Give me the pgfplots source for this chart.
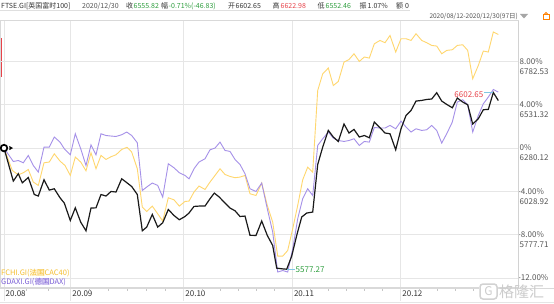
\documentclass[border=0pt]{standalone}
\usepackage{pgfplots}
\pgfplotsset{compat=1.18}
\usepackage{fontspec}
\setmainfont{Noto Sans CJK SC}
\definecolor{ftse}{HTML}{1A1A1A}
\definecolor{cac}{HTML}{FFD76E}
\definecolor{dax}{HTML}{A590E8}
\definecolor{cactxt}{HTML}{F5BE2E}
\definecolor{daxtxt}{HTML}{7B5FD6}
\definecolor{gridc}{HTML}{E6E6E6}
\definecolor{lab}{HTML}{555555}
\definecolor{hdr}{HTML}{333333}
\definecolor{upred}{HTML}{E8434A}
\definecolor{dngreen}{HTML}{2E9E3E}
\definecolor{hlblue}{HTML}{7EC8E3}
\newcommand\fs{\fontsize{8bp}{9.5bp}\selectfont}
\newcommand\hs{\fontsize{7bp}{8.5bp}\selectfont}
\begin{document}
\begin{tikzpicture}[x=1bp,y=1bp]
\useasboundingbox (0,0) rectangle (554,303);
\fill[white] (0,0) rectangle (554,303);
% header row 1
\begin{scope}[every node/.style={anchor=west,inner sep=0pt,font=\hs,text=hdr}]
\node at (1,297) {FTSE.GI[英国富时100]};
\node[text=lab] at (82,297) {2020/12/30};
\node at (126,297) {收};
\node[text=dngreen] at (133.5,297) {6555.82};
\node at (161,297) {幅};
\node[text=dngreen] at (168.5,297) {-0.71\%(-46.83)};
\node at (228,297) {开};
\node at (235.5,297) {6602.65};
\node at (272.5,297) {高};
\node[text=upred] at (280.5,297) {6622.98};
\node at (317.5,297) {低};
\node[text=dngreen] at (325.5,297) {6552.46};
\node at (359.5,297) {振};
\node at (367.5,297) {1.07\%};
\node at (396,297) {额};
\node at (405,297) {0};
\node[anchor=east,text=lab,font=\fontsize{6.5bp}{8bp}\selectfont] at (518,287) {2020/08/12-2020/12/30(97日)};
\end{scope}
\draw[gray!25] (0,293.2) -- (410,293.2);
\fill[gray!70] (520,289) -- (528,289) -- (524,284.5) -- cycle;
\draw[orange,line width=0.8bp] (543,284) rectangle (549,289);
\draw[orange,line width=0.8bp] (544.5,289) arc (180:0:1.5);
% left red mark
\fill[upred] (0,226) rectangle (1.6,265);
\begin{axis}[at={(0,15)}, anchor=south west, scale only axis,
  width=518bp, height=267bp,
  xmin=0, xmax=518, ymin=-12.81, ymax=11.85,
  axis line style={draw=gray!30},
  xtick={4,70.7,183.7,292.3,400.7}, xticklabels={},
  ytick={-12,-8,-4,0,4,8}, yticklabels={},
  major tick length=0pt,
  grid=major, grid style={gridc, line width=0.6bp},
  clip mode=individual]
\addplot[cac, line width=0.9bp] coordinates {(4,0) (12.3,-2.07) (18.3,-2.47) (23.3,-2.28) (28.3,-1.98) (33.3,-3.14) (38.3,-3.45) (44,-1.36) (49.3,-1.29) (54.3,-0.53) (60,-1.20) (65,-1.61) (70.3,-2.53) (75.3,-0.83) (80.7,-1.29) (86,-2.10) (91,-0.43) (96,-1.91) (101,-0.68) (106,-1.05) (111,-0.80) (116,-0.62) (121.7,-0.13) (127,0.07) (131.7,-0.37) (137.3,-1.91) (142.3,-5.45) (146.7,-5.86) (152.3,-5.36) (157.7,-6.07) (162.7,-6.74) (168.3,-4.59) (174,-4.78) (179.3,-5.36) (185,-4.93) (189,-4.90) (194,-4.06) (199,-3.51) (205,-3.82) (210,-3.14) (215,-2.53) (220,-1.91) (225,-2.44) (230,-2.62) (235,-2.74) (240,-2.68) (245,-2.53) (250,-4.22) (256,-4.38) (261.7,-3.23) (267.3,-5.30) (272.7,-6.84) (277.7,-9.98) (282.7,-9.98) (287.7,-9.46) (292.7,-7.45) (297.7,-5.30) (302.7,-2.93) (307.7,-1.76) (312.7,-2.22) (317.7,5.32) (322.7,6.86) (328.3,7.39) (333.3,5.78) (338.3,6.15) (344,7.94) (349,8.18) (354,8.71) (359.3,8.00) (364.3,8.41) (369.3,8.31) (374.3,9.63) (380,9.94) (385,9.73) (390,10.40) (395.7,8.87) (401,10.10) (406,10.10) (411,9.94) (416,10.56) (421.7,9.94) (426.7,9.73) (431.7,9.48) (436.7,9.42) (441.7,8.71) (446.7,9.02) (452.3,9.08) (457.3,9.48) (462.7,9.54) (467.7,9.02) (472.7,6.40) (478.3,7.63) (483.3,8.96) (488.3,8.87) (493.3,10.72) (498.3,10.49)};
\addplot[dax, line width=0.9bp] coordinates {(4,0) (13.3,-1.24) (18.3,-1.15) (23.3,-1.36) (28.3,-0.68) (33.3,-1.61) (38.3,-2.22) (44,0.09) (49.3,0.09) (54.3,1.02) (60,0.55) (64.3,-0.06) (70.3,-0.62) (75.3,1.32) (80.7,-0.06) (86,-1.61) (91,0.30) (96,-0.62) (101,1.32) (106,1.16) (111,1.11) (116,1.07) (121.7,1.23) (126.7,1.48) (131.7,1.16) (137.3,0.49) (142.3,-3.92) (146.7,-3.60) (152.3,-3.23) (157.7,-3.45) (162.7,-4.53) (168.3,-1.45) (174,-1.82) (179.3,-2.28) (185,-2.53) (189,-2.84) (194,-1.91) (199,-1.29) (205,-0.99) (210,-0.16) (215,0) (220,0.55) (225,-0.22) (230,-0.31) (235,-1.05) (240,-1.52) (245,-2.37) (250,-3.76) (256,-4.01) (261.7,-3.23) (267.3,-5.61) (272.7,-7.76) (277.7,-11.45) (282.7,-11.31) (287.7,-11.45) (292.7,-9.30) (297.7,-6.53) (302.7,-4.68) (307.7,-3.76) (312.7,-4.38) (317.7,0.24) (322.7,0.86) (328.3,1.48) (333.3,0.92) (338.3,0.70) (344,0.61) (349,0.70) (354,0.86) (359.3,0.24) (364.3,0.61) (369.3,0.55) (374.3,1.90) (380,1.85) (385,1.85) (390,2.09) (395.7,1.78) (401,2.49) (406,1.94) (411,1.48) (416,1.78) (421.7,1.63) (426.7,1.69) (431.7,2.09) (436.7,1.63) (441.7,0.46) (446.7,1.32) (452.3,2.40) (457.3,4.25) (462.7,4.46) (467.7,4.00) (472.7,1.48) (478.3,3.01) (483.3,4.09) (488.3,4.71) (493.3,5.41) (498.3,5.17)};
\addplot[ftse, line width=1.2bp] coordinates {(4,0) (13.3,-3.05) (18.3,-2.37) (22.3,-3.21) (28.3,-2.72) (34.3,-4.29) (38.3,-4.43) (44,-2.93) (49.3,-3.88) (54.3,-3.76) (60,-4.59) (64.3,-5.08) (70.3,-6.69) (75.3,-5.52) (80.7,-6.84) (86,-7.64) (91,-5.54) (96,-5.52) (101,-4.29) (106,-4.43) (111,-4.01) (116,-4.06) (121.7,-2.84) (127,-3.21) (131.7,-3.55) (137.3,-4.29) (142.3,-7.64) (146.7,-7.30) (152.3,-6.13) (157.7,-7.30) (162.7,-6.90) (168.3,-5.67) (174,-6.23) (179.3,-6.62) (185,-6.32) (189,-6.00) (194,-5.39) (199,-5.36) (205,-5.36) (210,-4.68) (214.3,-4.16) (219.3,-4.53) (225,-5.08) (230,-5.54) (235,-5.79) (240,-6.32) (245,-6.28) (250,-8.06) (256,-8.07) (261.7,-6.74) (267.3,-8.07) (272.7,-9.00) (276.7,-11.09) (281.7,-11.15) (286.7,-11.19) (291.7,-9.98) (296.7,-8.07) (301.7,-6.37) (306.7,-6.00) (312.7,-5.91) (317.7,-1.52) (322.7,0.09) (328.3,1.63) (333.3,1.02) (338.3,0.61) (344,2.22) (349,1.39) (354,1.72) (359.3,1.02) (364.3,1.16) (369.3,0.95) (374.3,2.40) (380,1.88) (385,1.39) (390,1.32) (395.7,-0.16) (401,1.78) (406,3.01) (411,3.47) (416,4.34) (421.7,4.40) (426.7,4.49) (431.7,4.53) (436.7,5.11) (441.7,4.34) (446.7,4.03) (452.3,3.72) (457.3,4.62) (462.7,4.25) (467.7,4.00) (472.7,2.22) (478.3,2.71) (483.3,3.54) (488.3,3.57) (493.3,5.13) (498.3,4.39)};
% start marker
\addplot[only marks, mark=triangle*, mark size=2bp, mark options={rotate=-90, fill=black, draw=black}] coordinates {(10.5,0)};
\addplot[only marks, mark=*, mark size=3.3bp, mark options={draw=black, fill=white, line width=1.7bp}] coordinates {(4,0)};
% min / max annotations
\draw[hlblue, line width=0.6bp] (axis cs:286.7,-11.19) -- (axis cs:295,-11.19);
\node[anchor=west, inner sep=0.5pt, font=\fs, text=dngreen] at (axis cs:295,-11.19) {5577.27};
\draw[hlblue, line width=0.6bp] (axis cs:484,5.13) -- (axis cs:493.3,5.13);
\node[anchor=east, inner sep=0.5pt, font=\fs, text=upred] at (axis cs:484,4.95) {6602.65};
% right axis labels
\begin{scope}[every node/.style={anchor=west, inner sep=0pt, font=\fs, text=lab}]
\node at (axis cs:519.5,8) {8.00\%};
\node at ([yshift=-10bp]axis cs:519.5,8) {6782.53};
\node at (axis cs:519.5,4) {4.00\%};
\node at ([yshift=-10bp]axis cs:519.5,4) {6531.32};
\node at (axis cs:519.5,0) {0\%};
\node at ([yshift=-10bp]axis cs:519.5,0) {6280.12};
\node at (axis cs:518,-4) {-4.00\%};
\node at ([yshift=-10bp]axis cs:519.5,-4) {6028.92};
\node at (axis cs:518,-8) {-8.00\%};
\node at ([yshift=-10bp]axis cs:519.5,-8) {5777.71};
\node at (axis cs:518,-12) {-12.00\%};
\end{scope}
\begin{scope}[every node/.style={anchor=west, inner sep=0pt, font=\fs, text=hdr}]
\node at ([xshift=1.5bp,yshift=-6.5bp]axis cs:4,-12.81) {20.08};
\node at ([xshift=1.5bp,yshift=-6.5bp]axis cs:70.7,-12.81) {20.09};
\node at ([xshift=1.5bp,yshift=-6.5bp]axis cs:183.7,-12.81) {20.10};
\node at ([xshift=1.5bp,yshift=-6.5bp]axis cs:292.3,-12.81) {20.11};
\node at ([xshift=1.5bp,yshift=-6.5bp]axis cs:400.7,-12.81) {20.12};
\end{scope}
\end{axis}
% month lines through the date bar, and small tick marks (axis x = picture x)
\foreach \m in {4,70.7,183.7,292.3,400.7} {\draw[gridc, line width=0.6bp] (\m,15) -- (\m,2);}
\foreach \m in {26,48,89.5,108.4,127.2,146,164.9,201.8,219.9,238,256.1,274.2,310.4,328.4,346.5,364.6,382.6,418.8,436.9,455,473,491,509} {\draw[gray!45, line width=0.5bp] (\m,15) -- (\m,12.5);}
\draw[gray!35, line width=0.6bp] (518,15) -- (518,282);
\draw[gray!30] (0,15) -- (554,15);
\fill[gray!20] (0,0) rectangle (554,1.5);
% legend
\setlength{\fboxsep}{0pt}
\node[anchor=west, inner sep=0pt, font=\fontsize{7.5bp}{9bp}\selectfont, text=cactxt] at (1,30.3) {FCHI.GI(\colorbox{cac!25}{法国}CAC40)};
\node[anchor=west, inner sep=0pt, font=\fontsize{7.5bp}{9bp}\selectfont, text=daxtxt] at (1,20.7) {GDAXI.GI(\colorbox{dax!25}{德国}DAX)};
% watermark
\fill[white, rounded corners=3bp] (479,3) rectangle (498,20);
\draw[gray!35, line width=1.5bp, rounded corners=3bp] (480,4) rectangle (497,19);
\node[font=\fontsize{12bp}{12bp}\selectfont, text=gray!40, inner sep=0pt] at (488.5,11.5) {G};
\node[anchor=west, font=\fontsize{15bp}{15bp}\selectfont, text=gray!40, inner sep=0pt] at (499,11.5) {格隆汇};
\end{tikzpicture}
\end{document}
